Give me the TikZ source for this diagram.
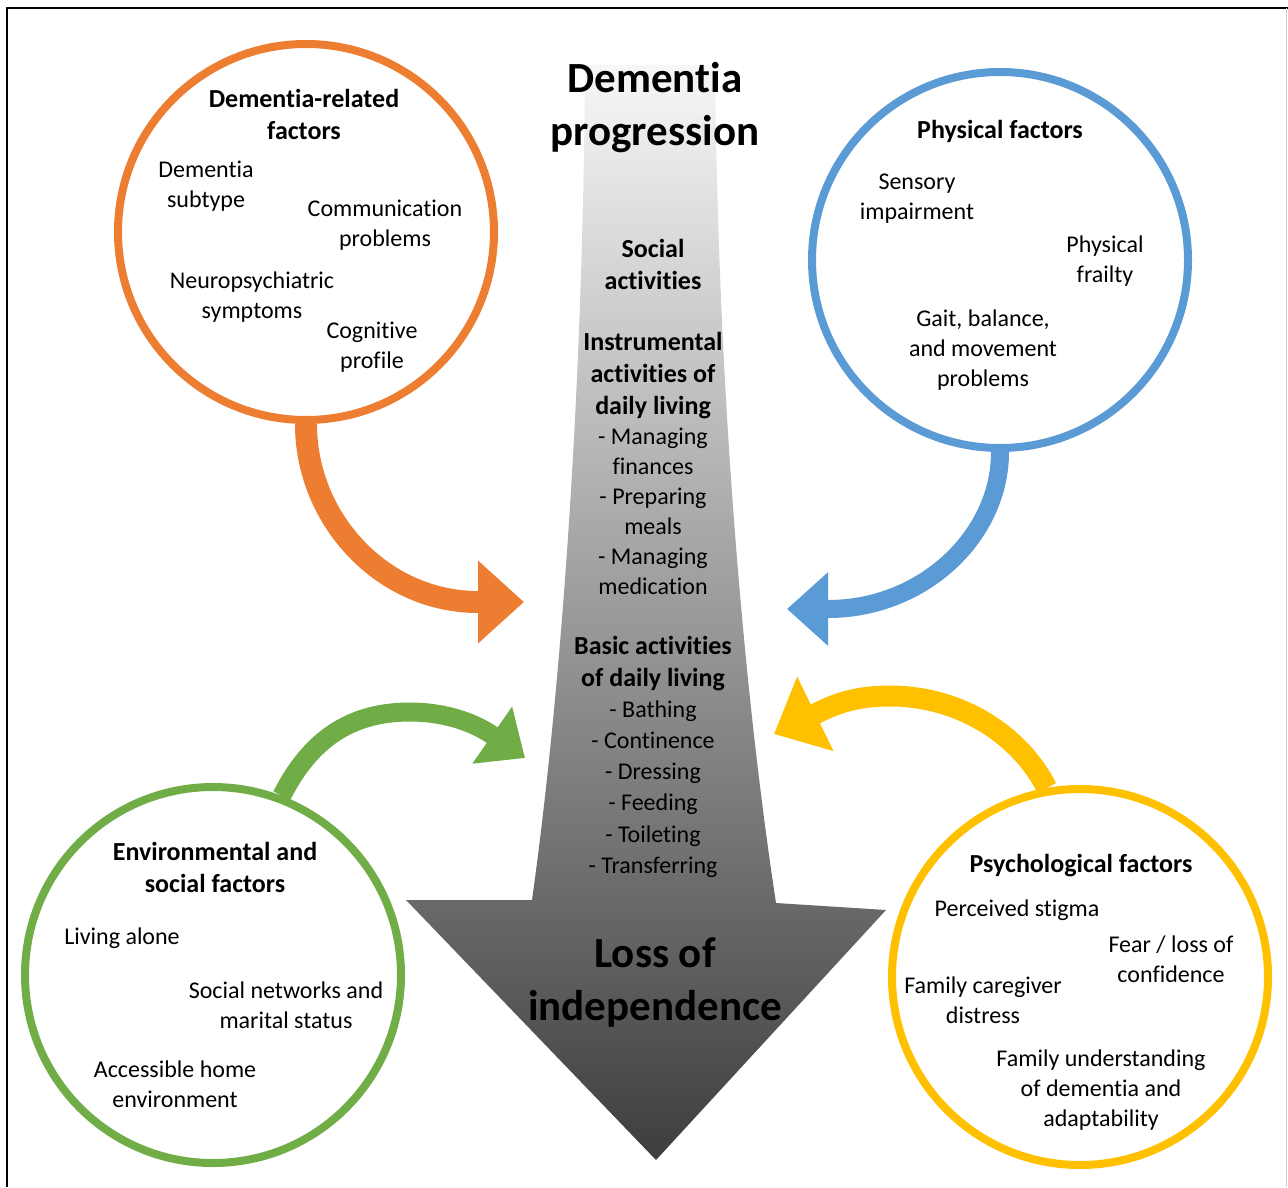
\documentclass[tikz,border=0pt]{standalone}
\usepackage{fontspec}
\setmainfont{Carlito}[Ligatures={NoCommon}]
\usetikzlibrary{arrows.meta}

\definecolor{demOrange}{HTML}{ED7D31}
\definecolor{physBlue}{HTML}{5B9BD5}
\definecolor{envGreen}{HTML}{70AD47}
\definecolor{psyYellow}{HTML}{FFC000}

\begin{document}
\begin{tikzpicture}[x=0.5pt, y=-0.5pt,
    factor/.style={circle, draw=#1, line width=4pt, minimum size=188pt, inner sep=0pt},
    item/.style={align=center, font=\fontsize{12}{15}\selectfont},
    head/.style={align=center, font=\fontsize{13}{16}\selectfont\bfseries},
    title/.style={align=center, font=\fontsize{21.5}{26.5}\selectfont\bfseries}]
    \useasboundingbox (0,0) rectangle (1288,1187);

    % Frame
    \draw[line width=1.2pt] (7,1187) -- (7,8) -- (1288,8);
    \draw[gray!40, line width=0.5pt] (1286,8) -- (1286,1187);

    % Main arrow of progression
    \shade[top color=black!3, middle color=black!27, bottom color=black!76]
        (585,65) -- (715,65) .. controls (718,400) and (745,700) .. (776,903)
        -- (886,910) -- (656,1160) -- (406,900) -- (532,900)
        .. controls (560,700) and (583,400) .. (585,65) -- cycle;

    \node[title] (progress) at (655,108) {Dementia\\progression};
    \node[head] (social) at (653,264) {Social\\activities};
    \node[head] (iadl) at (653,376) {Instrumental\\activities of\\daily living};
    \node[item] (iadlList) at (653,511) {- Managing\\finances\\- Preparing\\meals\\- Managing\\medication};
    \node[head] (badl) at (653,664) {Basic activities\\of daily living};
    \node[item, font=\fontsize{12}{15.6}\selectfont] (badlList) at (653,789) {- Bathing\\- Continence\\- Dressing\\- Feeding\\- Toileting\\- Transferring};
    \node[title] (loss) at (655,982) {Loss of\\independence};

    % Factor circles
    \node[factor=demOrange] (orange) at (306,232) {};
    \node[factor=physBlue] (blue) at (1000,260) {};
    \node[factor=envGreen] (green) at (213,975) {};
    \node[factor=psyYellow] (yellow) at (1080,977) {};

    % Dementia-related factors
    \node[head] (demHead) at (304,114) {Dementia-related\\factors};
    \node[item] (subtype) at (206,186) {Dementia\\subtype};
    \node[item] (communication) at (385,225) {Communication\\problems};
    \node[item] (neuro) at (252,297) {Neuropsychiatric\\symptoms};
    \node[item] (cognitive) at (372,347) {Cognitive\\profile};

    % Physical factors
    \node[head] (physHead) at (1000,131) {Physical factors};
    \node[item] (sensory) at (917,199) {Sensory\\impairment};
    \node[item] (frailty) at (1105,261) {Physical\\frailty};
    \node[item] (gait) at (983,350) {Gait, balance,\\and movement\\problems};

    % Environmental and social factors
    \node[head] (envHead) at (215,867) {Environmental and\\social factors};
    \node[item] (alone) at (122,938) {Living alone};
    \node[item] (networks) at (286,1005) {Social networks and\\marital status};
    \node[item] (home) at (175,1084) {Accessible home\\environment};

    % Psychological factors
    \node[head] (psyHead) at (1081,866) {Psychological factors};
    \node[item] (stigma) at (1017,910) {Perceived stigma};
    \node[item] (fear) at (1171,959) {Fear / loss of\\confidence};
    \node[item] (caregiver) at (983,1000) {Family caregiver\\distress};
    \node[item] (understanding) at (1101,1090) {Family understanding\\of dementia and\\adaptability};

    % Arrow ends
    \coordinate (orangeTip) at (524,602);
    \coordinate (blueTip) at (787,609);
    \coordinate (greenTip) at (525,758);
    \coordinate (yellowTip) at (774,734);

    % Influence arrows
    \draw[demOrange, line width=11pt, -{Triangle[length=23pt, width=40pt]}]
        (orange.south) .. controls (306,520) and (383,602) .. (478,602) -- (orangeTip);
    \draw[physBlue, line width=9pt, -{Triangle[length=20.5pt, width=35.5pt]}]
        (blue.south) .. controls (1000,536) and (923,609) .. (828,609) -- (blueTip);
    \draw[envGreen, line width=9.5pt, -{Triangle[length=20pt, width=33.5pt]}]
        (green.69) .. controls (310,740) and (350,712) .. (410,712)
        .. controls (440,712) and (470,720) .. (492,735) -- (greenTip);
    \draw[psyYellow, line width=10.5pt, -{Triangle[length=23pt, width=40pt]}]
        (yellow.100) .. controls (1020,735) and (960,696) .. (890,696)
        .. controls (855,696) and (835,704) .. (815,714) -- (yellowTip);
\end{tikzpicture}
\end{document}
